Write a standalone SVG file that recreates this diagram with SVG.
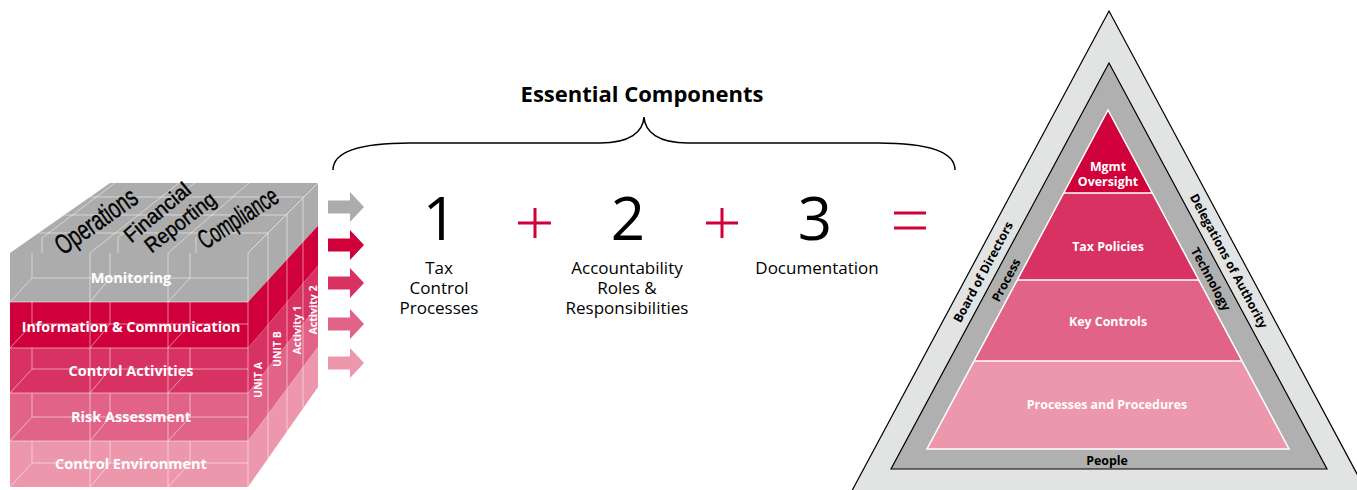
<svg xmlns="http://www.w3.org/2000/svg" width="1357" height="490" viewBox="0 0 1357 490">
<style>
 text{font-family:"Open Sans","Liberation Sans",sans-serif;}
 .w{fill:#fff;font-weight:700;text-anchor:middle;}
 .k{fill:#000;font-weight:700;text-anchor:middle;}
 .g{stroke:#fff;stroke-opacity:.5;stroke-width:1;fill:none;}
 .gray{fill:#acacac}
 .c1{fill:#d0003a}.c2{fill:#d83262}.c3{fill:#e16488}.c4{fill:#ec97ac}
 .num{font-size:60px;fill:#000;text-anchor:middle}
 .lbl{font-size:17px;fill:#000;text-anchor:middle}
 .op{stroke:#d0003a;stroke-width:3;fill:none}
 .top{font-family:"Liberation Sans Narrow","Liberation Sans",sans-serif;fill:#000;stroke:#000;stroke-width:.4;text-anchor:middle;dominant-baseline:central}
 .side{font-size:10.5px;dominant-baseline:central}
 .pl{font-size:12.4px}
 .rl{font-size:12.3px;dominant-baseline:central}
</style>

<g id="cube">
 <polygon class="gray" points="10,253 248,253 318,183 110,183"/>
 <rect class="gray" x="10" y="253" width="238" height="49"/>
 <rect class="c1" x="10" y="302" width="238" height="46"/>
 <rect class="c2" x="10" y="348" width="238" height="45"/>
 <rect class="c3" x="10" y="393" width="238" height="48"/>
 <rect class="c4" x="10" y="441" width="238" height="46"/>
 <polygon class="gray" points="248,253 318,183 318,225.7 248,302"/>
 <polygon class="c1" points="248,302 318,225.7 318,265.8 248,348"/>
 <polygon class="c2" points="248,348 318,265.8 318,305 248,393"/>
 <polygon class="c3" points="248,393 318,305 318,346.9 248,441"/>
 <polygon class="c4" points="248,441 318,346.9 318,387 248,487"/>
 <!-- top grid -->
 <path class="g" d="M38.6,233H268 M64.3,215H286 M90,197H304 M90,253L179,183 M168,253L249,183 M42,238V253 M118,237V253 M196,237V253 M42,238L115,183 M118,237L195,183"/>
 <!-- front grid -->
 <path class="g" d="M90,253V487 M168,253V487 M10,302H248 M10,348H248 M10,393H248 M10,441H248
  M32,278H248 M32,324H248 M32,369H248 M32,417H248 M32,463H248
  M32,253V278 M110,253V278 M190,253V278 M32,302V324 M110,302V324 M190,302V324 M32,348V369 M110,348V369 M190,348V369 M32,393V417 M110,393V417 M190,393V417 M32,441V463 M110,441V463 M190,441V463
  M10,302L32,278 M90,302L110,278 M168,302L190,278 M10,348L32,324 M90,348L110,324 M168,348L190,324 M10,393L32,369 M90,393L110,369 M168,393L190,369 M10,441L32,417 M90,441L110,417 M168,441L190,417 M10,487L32,463 M90,487L110,463 M168,487L190,463"/>
 <!-- side grid -->
 <path class="g" d="M268,233V458.4 M287,214V431.3 M303,198V408.4 M248,253V487 M248,253L318,183"/>
 <text class="top" font-size="28" textLength="94" lengthAdjust="spacingAndGlyphs" transform="translate(96,221) rotate(-35)">Operations</text>
 <text class="top" font-size="21" textLength="80" lengthAdjust="spacingAndGlyphs" transform="translate(157,212) rotate(-40)">Financial</text>
 <text class="top" font-size="21" textLength="84" lengthAdjust="spacingAndGlyphs" transform="translate(180,222) rotate(-38)">Reporting</text>
 <text class="top" font-size="27" textLength="90" lengthAdjust="spacingAndGlyphs" transform="translate(238,218) rotate(-33)">Compliance</text>
 <text class="w" font-size="14.5" x="131" y="283">Monitoring</text>
 <text class="w" font-size="14.3" x="131" y="332">Information &amp; Communication</text>
 <text class="w" font-size="14.5" x="131" y="376">Control Activities</text>
 <text class="w" font-size="14.5" x="131" y="422">Risk Assessment</text>
 <text class="w" font-size="14.5" x="131" y="469">Control Environment</text>
 <text class="w side" transform="translate(258,380) rotate(-90)">UNIT A</text>
 <text class="w side" transform="translate(277,349) rotate(-90)">UNIT B</text>
 <text class="w side" transform="translate(297,330) rotate(-90)">Activity 1</text>
 <text class="w side" transform="translate(313,310) rotate(-90)">Activity 2</text>
</g>

<g id="connectors">
 <path fill="#acacac" d="M328,200.5H350V192L364,207L350,222V213.5H328Z"/>
 <path fill="#d0003a" d="M328,238.5H350V230L364,245L350,260V251.5H328Z"/>
 <path fill="#d83262" d="M328,276.5H350V268L364,283L350,298V289.5H328Z"/>
 <path fill="#e16488" d="M328,317.5H350V309L364,324L350,339V330.5H328Z"/>
 <path fill="#ec97ac" d="M328,356.5H350V348L364,363L350,378V369.5H328Z"/>
 <path fill="none" stroke="#000" stroke-width="1.5" d="M333,170C333,152 360,143 410,143L600,143C630,143 643,132 644,117C645,132 658,143 688,143L878,143C928,143 955,152 955,170"/>
</g>

<g id="heading">
 <text class="k" font-size="22" x="642" y="102">Essential Components</text>
</g>

<g id="component1">
 <text class="num" x="440" y="240">1</text>
 <text class="lbl" x="439" y="274">Tax</text>
 <text class="lbl" x="439" y="294">Control</text>
 <text class="lbl" x="439" y="314">Processes</text>
</g>
<g id="plus1"><path class="op" d="M518,223H551M535,208V238"/></g>
<g id="component2">
 <text class="num" x="628" y="240">2</text>
 <text class="lbl" x="627" y="274">Accountability</text>
 <text class="lbl" x="627" y="294">Roles &amp;</text>
 <text class="lbl" x="627" y="314">Responsibilities</text>
</g>
<g id="plus2"><path class="op" d="M706,223H738M722,208V238"/></g>
<g id="component3">
 <text class="num" x="815" y="240">3</text>
 <text class="lbl" x="817" y="274">Documentation</text>
</g>
<g id="equals"><path class="op" d="M894,213H926M894,228H926"/></g>

<g id="pyramid">
 <polygon points="1109,11 1371,500 847,500" fill="#e2e3e3" stroke="#000" stroke-width="1.2"/>
 <polygon points="1109,63 1327,469 891,469" fill="#b0b0b0" stroke="#000" stroke-width="1.2"/>
 <polygon class="c1" points="1108,110 1152.3,193 1063.7,193"/>
 <polygon class="c2" points="1063.7,193 1152.3,193 1198.8,280 1017.2,280"/>
 <polygon class="c3" points="1017.2,280 1198.8,280 1242,361 974,361"/>
 <polygon class="c4" points="974,361 1242,361 1289,449 927,449"/>
 <path fill="none" stroke="#fff" stroke-width="1.5" d="M1108,110L1289,449H927Z M1063.7,193H1152.3 M1017.2,280H1198.8 M974,361H1242"/>
 <text class="w pl" x="1108" y="171">Mgmt</text>
 <text class="w pl" x="1108" y="186">Oversight</text>
 <text class="w pl" x="1108" y="250.5">Tax Policies</text>
 <text class="w pl" x="1108" y="325.5">Key Controls</text>
 <text class="w pl" x="1107" y="408.5">Processes and Procedures</text>
 <text class="k pl" x="1107" y="464.5">People</text>
 <text class="k rl" transform="translate(983,272) rotate(-61.8)">Board of Directors</text>
 <text class="k rl" font-size="13" transform="translate(1006,280) rotate(-61.8)">Process</text>
 <text class="k rl" transform="translate(1229,261) rotate(61.8)">Delegations of Authority</text>
 <text class="k rl" transform="translate(1211,279) rotate(61.8)">Technology</text>
</g>
</svg>
